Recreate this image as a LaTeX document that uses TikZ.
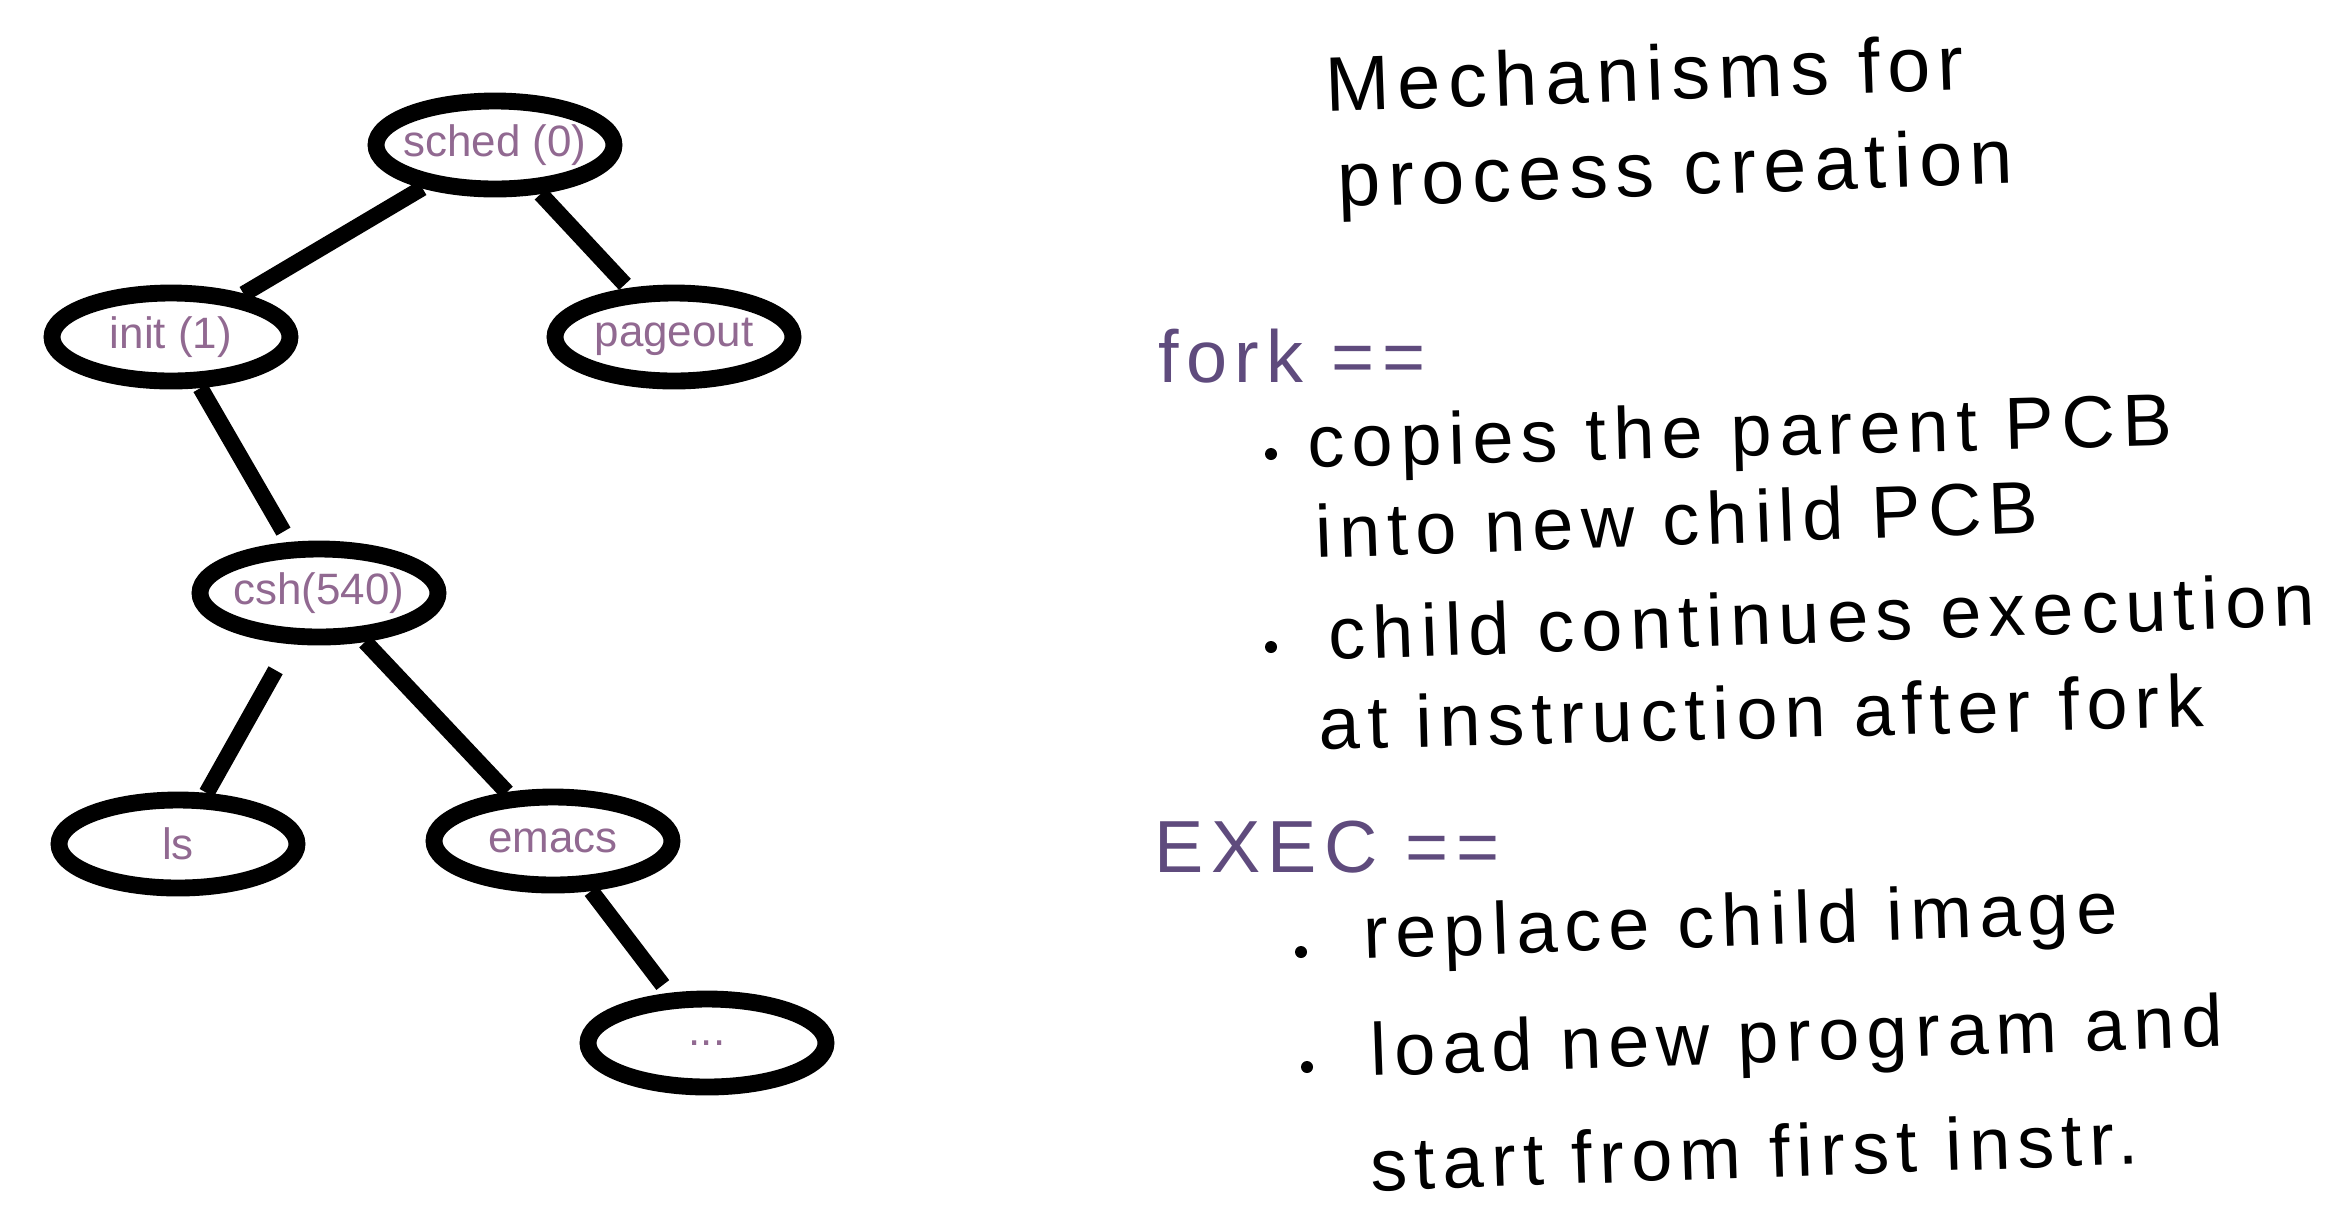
\documentclass[tikz,border=0pt]{standalone}
\usepackage{fontspec}
\setmainfont{Liberation Sans}
\newfontfamily\handfont{Liberation Sans}[LetterSpace=10]
\usetikzlibrary{shapes,positioning}
\definecolor{labelpurple}{RGB}{145,105,145}
\definecolor{keypurple}{RGB}{95,75,125}

\begin{document}
\begin{tikzpicture}[
    proc/.style={ellipse, draw=black, line width=4.8pt, minimum width=2.38cm, minimum height=0.88cm, inner xsep=-0.4cm, inner ysep=0pt, text=labelpurple, font={\fontsize{12.5pt}{14}\selectfont}},
    link/.style={draw, line width=4.6pt},
    note/.style={anchor=base west, rotate=2, inner sep=0pt, font={\handfont\fontsize{21pt}{24}\selectfont}},
    flatnote/.style={anchor=base west, rotate=1.5, inner sep=0pt, font={\handfont\fontsize{21pt}{24}\selectfont}},
    keyword/.style={anchor=base west, inner sep=0pt, text=keypurple, font={\handfont\fontsize{21pt}{24}\selectfont}},
    bullet/.style={circle, fill=black, inner sep=0pt, minimum size=0.12cm}
]

\useasboundingbox (0,0) rectangle (23.5,-12.06);

% Nodes
\node[proc] (sched) at (4.95,-1.45) {sched (0)};
\node[proc] (init) at (1.71,-3.37) {init (1)};
\node[proc] (pageout) at (6.74,-3.37) {pageout};
\node[proc] (csh) at (3.19,-5.93) {csh(540)};
\node[proc] (ls) at (1.78,-8.44) {ls};
\node[proc] (emacs) at (5.53,-8.41) {emacs};
\node[proc] (more) at (7.07,-10.43) {...};

% Lines
\draw[link] (sched) -- (init);
\draw[link, shorten >=0.05cm] (sched) -- (pageout);
\draw[link, shorten >=0.12cm] (init) -- (csh);
\draw[link, shorten <=0.3cm] (csh) -- (ls);
\draw[link] (csh) -- (emacs);
\draw[link, shorten >=0.1cm] (emacs) -- (more);

% Notes
\node[note, font={\handfont\fontsize{22pt}{24}\selectfont}] (title1) at (13.26,-1.12) {Mechanisms for};
\node[note, font={\handfont\fontsize{22pt}{24}\selectfont}] (title2) at (13.38,-2.07) {process creation};

\node[keyword] (fork) at (11.58,-3.82) {fork ==};
\node[bullet] (b1) at (12.71,-4.54) {};
\node[flatnote] (copies) at (13.08,-4.68) {copies the parent PCB};
\node[note] (into) at (13.16,-5.58) {into new child PCB};
\node[bullet] (b2) at (12.71,-6.47) {};
\node[note] (cont) at (13.29,-6.6) {child continues execution};
\node[flatnote] (after) at (13.19,-7.5) {at instruction after fork};

\node[keyword] (exec) at (11.54,-8.72) {EXEC ==};
\node[bullet] (b3) at (13.01,-9.52) {};
\node[note] (replace) at (13.64,-9.59) {replace child image};
\node[bullet] (b4) at (13.07,-10.67) {};
\node[note] (load) at (13.71,-10.76) {load new program and};
\node[note] (start) at (13.71,-11.91) {start from first instr.};

\end{tikzpicture}
\end{document}
